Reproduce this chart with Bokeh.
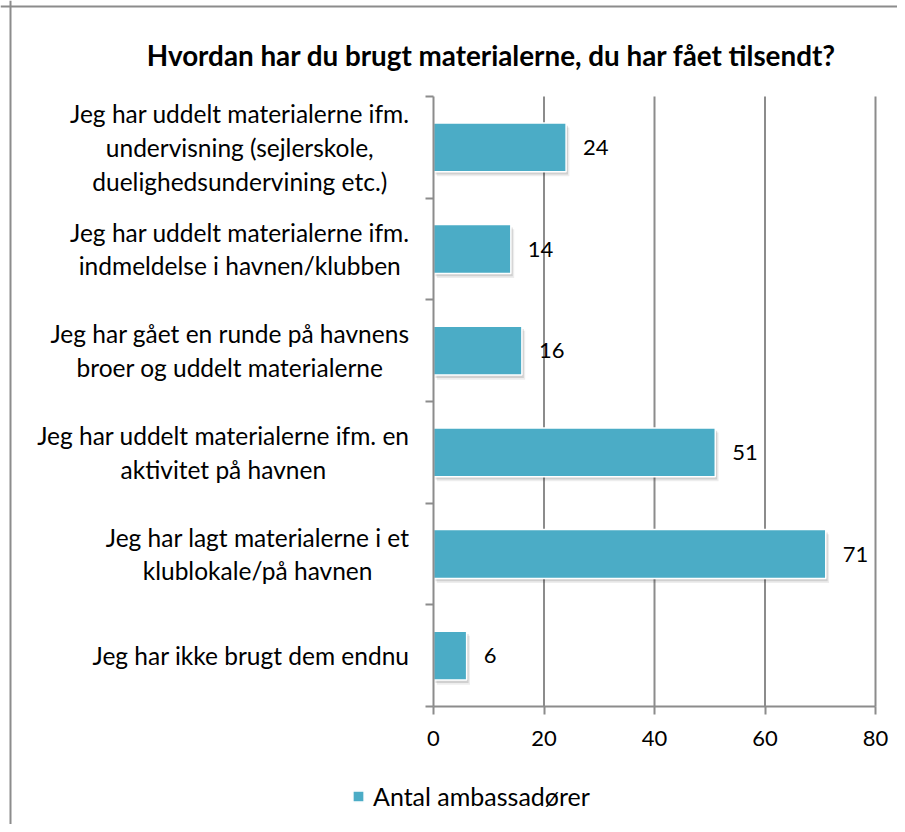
from bokeh.plotting import figure
from bokeh.models import Range1d, FixedTicker, Label, Legend, LegendItem, Span
from bokeh.embed import file_html
from bokeh.resources import INLINE

title = "Hvordan har du brugt materialerne, du har fået tilsendt?"
categories = [
    "Jeg har uddelt materialerne ifm.\nundervisning (sejlerskole,\nduelighedsundervining etc.)",
    "Jeg har uddelt materialerne ifm.\nindmeldelse i havnen/klubben",
    "Jeg har gået en runde på havnens\nbroer og uddelt materialerne",
    "Jeg har uddelt materialerne ifm. en\naktivitet på havnen",
    "Jeg har lagt materialerne i et\nklublokale/på havnen",
    "Jeg har ikke brugt dem endnu",
]
values = [24, 14, 16, 51, 71, 6]
x_ticks = [0, 20, 40, 60, 80]
series_name = "Antal ambassadører"

FONT = "Lato"
BAR = "#4BACC6"
GRID = "#8c8c8c"

n = len(categories)
ypos = [n - 0.5 - i for i in range(n)]
y_bounds = list(range(n + 1))

# layout (pixels inside the figure)
W, H = 897, 824
PX_L, PX_R = 433, 875      # x = 0 and x = 80
PX_T, PX_B = 96, 706       # y = n and y = 0
BORDER_X, BORDER_Y = 10, 6 # chart-area border
xs = (PX_R - PX_L) / (x_ticks[-1] - x_ticks[0])
ys = (PX_B - PX_T) / n
x0 = x_ticks[0] - PX_L / xs
y1 = n + PX_T / ys
x_range = Range1d(x0, x_ticks[-1] + (W - PX_R) / xs)
y_range = Range1d(0 - (H - PX_B) / ys, y1)

p = figure(width=W, height=H, output_backend="svg", toolbar_location=None,
           x_range=x_range, y_range=y_range,
           min_border=0, min_border_left=0, min_border_right=0,
           min_border_top=0, min_border_bottom=0)
p.outline_line_color = None
p.grid.visible = False

# chart-area border (left and top edges visible)
p.add_layout(Span(location=x0 + BORDER_X / xs, dimension="height", line_color=GRID, line_width=2))
p.add_layout(Span(location=y1 - BORDER_Y / ys, dimension="width", line_color=GRID, line_width=2))

# vertical grid lines
p.segment(x0=x_ticks[1:], y0=0, x1=x_ticks[1:], y1=n, line_color=GRID, line_width=2)

# axes at data origin
p.xaxis.fixed_location = 0
p.xaxis.bounds = (x_ticks[0], x_ticks[-1])
p.xaxis.ticker = FixedTicker(ticks=x_ticks)
p.xaxis.axis_line_color = GRID
p.xaxis.axis_line_width = 2
p.xaxis.major_tick_line_color = GRID
p.xaxis.major_tick_line_width = 2
p.xaxis.major_tick_out = 8
p.xaxis.major_tick_in = 0
p.xaxis.minor_tick_line_color = None
p.xaxis.major_label_text_font = FONT
p.xaxis.major_label_text_font_size = "22px"
p.xaxis.major_label_text_color = "black"
p.xaxis.major_label_standoff = 16

p.yaxis.fixed_location = 0
p.yaxis.bounds = (0, n)
p.yaxis.ticker = FixedTicker(ticks=y_bounds)
p.yaxis.major_label_overrides = {b: "" for b in y_bounds}
p.yaxis.axis_line_color = GRID
p.yaxis.axis_line_width = 2
p.yaxis.major_tick_line_color = GRID
p.yaxis.major_tick_line_width = 2
p.yaxis.major_tick_out = 8
p.yaxis.major_tick_in = 0
p.yaxis.minor_tick_line_color = None

# bar shadows
for dx, dy, a in [(0.6, 0.045, 0.07), (0.35, 0.028, 0.12)]:
    p.hbar(y=[y - dy for y in ypos], left=dx, right=[v + dx for v in values], height=0.48,
           fill_color="black", fill_alpha=a, line_color=None)

bars = p.hbar(y=ypos, left=0, right=values, height=0.48, fill_color=BAR,
              line_color="white", line_width=1.5)

# value labels
for v, y in zip(values, ypos):
    p.add_layout(Label(x=v, y=y, text=str(v), x_offset=17, text_baseline="middle",
                       text_align="left", text_font=FONT, text_font_size="22px",
                       text_color="black"))

# category labels
for c, y in zip(categories, ypos):
    p.add_layout(Label(x=0, y=y, text=c, x_offset=-24, anchor="center_right",
                       text_align="center", text_baseline="middle", text_line_height=1.17,
                       text_font=FONT, text_font_size="24.5px", text_color="black"))

# title
p.add_layout(Label(x=0, y=n, text=title, x_offset=58, y_offset=41, text_align="center",
                   text_baseline="middle", text_font=FONT, text_font_style="bold",
                   text_font_size="27.8px", text_color="black"))

legend = Legend(items=[LegendItem(label=series_name, renderers=[bars])],
                location=(351, 13), orientation="horizontal",
                border_line_color=None, background_fill_alpha=0, padding=0, margin=0,
                glyph_width=14, glyph_height=14, label_standoff=8, spacing=0,
                label_text_font=FONT, label_text_font_size="25px", label_text_color="black")
p.add_layout(legend)

open("out.html", "w").write(file_html(p, INLINE))
